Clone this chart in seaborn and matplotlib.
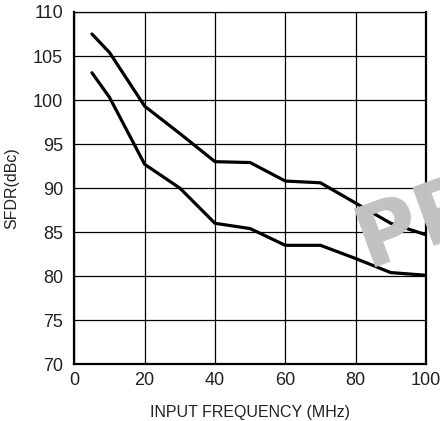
import matplotlib
matplotlib.use('Agg')
import matplotlib.pyplot as plt
import seaborn as sns
import pandas as pd

# curve data
freq = [5, 10, 20, 30, 40, 50, 60, 70, 80, 90, 100]
sfdr_upper = [107.5, 105.4, 99.3, 96.2, 93.0, 92.9, 90.8, 90.6, 88.3, 86.0, 84.7]
sfdr_lower = [103.1, 100.3, 92.7, 90.0, 86.0, 85.4, 83.5, 83.5, 82.0, 80.4, 80.1]

x_ticks = [0, 20, 40, 60, 80, 100]
y_ticks = [70, 75, 80, 85, 90, 95, 100, 105, 110]

sns.set_style('white')
plt.rcParams['font.family'] = ['Liberation Sans', 'DejaVu Sans']

df = pd.DataFrame({
    'freq': freq * 2,
    'sfdr': sfdr_upper + sfdr_lower,
    'curve': ['upper'] * len(freq) + ['lower'] * len(freq),
})

fig = plt.figure(figsize=(4.4, 4.21), dpi=100)
ax = fig.add_axes([0.169, 0.135, 0.799, 0.8365])

# watermark sits behind everything
fig.text(0.835, 0.364, 'PRELIMINARY', color='#c2c2c2', fontsize=62,
         fontweight='bold', family='DejaVu Sans', rotation=20,
         rotation_mode='anchor', ha='left', va='baseline', zorder=0)

sns.lineplot(data=df, x='freq', y='sfdr', units='curve', estimator=None,
             color='black', linewidth=2.3, ax=ax, zorder=3)

ax.set_xlim(0, 100)
ax.set_ylim(70, 110)
ax.set_xticks(x_ticks)
ax.set_yticks(y_ticks)
ax.grid(True, color='black', linewidth=0.9)
ax.set_axisbelow(True)
ax.patch.set_alpha(0)
ax.tick_params(length=0, labelsize=13, colors='#222222')
ax.tick_params(axis='y', pad=8)
ax.tick_params(axis='x', pad=6)
for side in ['left', 'bottom', 'right']:
    ax.spines[side].set_linewidth(1.6)
    ax.spines[side].set_color('black')
ax.spines['top'].set_linewidth(0.9)
ax.spines['top'].set_color('black')

ax.set_xlabel('INPUT FREQUENCY (MHz)', fontsize=11.5, color='#222222', labelpad=11)
ax.set_ylabel('SFDR(dBc)', fontsize=11.5, color='#222222', labelpad=10)

fig.savefig('out.png', dpi=100)
